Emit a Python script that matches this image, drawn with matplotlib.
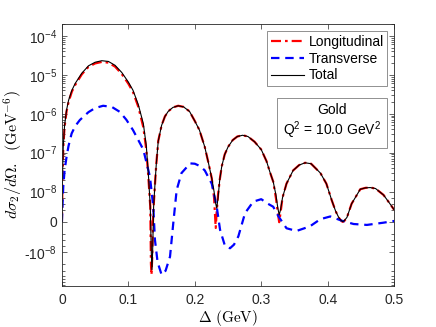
import numpy as np
import matplotlib
matplotlib.use("Agg")
import matplotlib.pyplot as plt
from matplotlib.patches import Rectangle
from matplotlib.ticker import FixedLocator

plt.rcParams['font.family'] = ['Liberation Sans', 'DejaVu Sans']
plt.rcParams['mathtext.fontset'] = 'custom'
plt.rcParams['mathtext.rm'] = 'Liberation Sans'
plt.rcParams['mathtext.it'] = 'Liberation Sans:italic'

# total cross section (GeV^-6) vs Delta (GeV)
x_tot = [0, 0.001, 0.002, 0.004, 0.007, 0.010, 0.015, 0.020, 0.030, 0.040, 0.050,
         0.060, 0.070, 0.080, 0.090, 0.100, 0.107, 0.115, 0.1225, 0.127, 0.130,
         0.133, 0.1345, 0.1355, 0.1365, 0.138, 0.140, 0.142, 0.145, 0.150, 0.155,
         0.160, 0.167, 0.175, 0.183, 0.192, 0.200, 0.207, 0.215, 0.2205, 0.2255,
         0.229, 0.231, 0.233, 0.235, 0.2375, 0.2405, 0.245, 0.250, 0.257, 0.264,
         0.272, 0.280, 0.290, 0.300, 0.308, 0.313, 0.318, 0.322, 0.325, 0.327,
         0.329, 0.332, 0.338, 0.348, 0.357, 0.366, 0.375, 0.389, 0.398, 0.406,
         0.412, 0.417, 0.4205, 0.4227, 0.425, 0.429, 0.436, 0.449, 0.457, 0.464,
         0.472, 0.484, 0.492, 0.500]
y_tot = [0, 3e-8, 1.4e-7, 5e-7, 1.25e-6, 2.2e-6, 4e-6, 6e-6, 1.1e-5, 1.7e-5, 2.1e-5,
         2.3e-5, 2.2e-5, 1.75e-5, 1.15e-5, 6.5e-6, 4e-6, 1.7e-6, 5.6e-7, 1.5e-7, 3e-8,
         5e-9, -1e-8, -2.8e-8, -1e-8, 5e-9, 1.5e-8, 5e-8, 2e-7, 5e-7, 8.5e-7,
         1.15e-6, 1.45e-6, 1.6e-6, 1.5e-6, 1.15e-6, 6.5e-7, 3.8e-7, 1.4e-7, 5.5e-8, 2.2e-8,
         1e-8, 6.5e-9, 4.5e-9, 8e-9, 2e-8, 4.4e-8, 9e-8, 1.4e-7, 2.1e-7, 2.6e-7,
         2.8e-7, 2.6e-7, 1.9e-7, 1.2e-7, 6e-8, 3.2e-8, 1.8e-8, 9e-9, 4.5e-9, 2.3e-9,
         4e-9, 8e-9, 1.6e-8, 3.5e-8, 4.8e-8, 5.5e-8, 5.2e-8, 3e-8, 1.6e-8, 7.2e-9,
         3.5e-9, 1.3e-9, 4e-10, 1e-10, 4e-10, 1.5e-9, 6e-9, 1.15e-8, 1.25e-8, 1.27e-8,
         1.2e-8, 8.9e-9, 6.5e-9, 4e-9]

# longitudinal part
x_lon = [0, 0.001, 0.002, 0.004, 0.007, 0.010, 0.015, 0.020, 0.030, 0.040, 0.050,
         0.060, 0.070, 0.080, 0.090, 0.100, 0.107, 0.115, 0.1225, 0.127, 0.130,
         0.133, 0.134, 0.1348, 0.1358, 0.137, 0.138, 0.140, 0.142, 0.145, 0.150, 0.155,
         0.160, 0.167, 0.175, 0.183, 0.192, 0.200, 0.207, 0.215, 0.2205, 0.2255,
         0.229, 0.2305, 0.2315, 0.2325, 0.235, 0.2375, 0.2405, 0.245, 0.250, 0.257, 0.264,
         0.272, 0.280, 0.290, 0.300, 0.308, 0.313, 0.318, 0.322, 0.325, 0.327,
         0.329, 0.332, 0.338, 0.348, 0.357, 0.366, 0.375, 0.389, 0.398, 0.406,
         0.412, 0.417, 0.4205, 0.4227, 0.425, 0.429, 0.436, 0.449, 0.457, 0.464,
         0.472, 0.484, 0.492, 0.500]
y_lon = [0, 2.5e-8, 1.3e-7, 4.6e-7, 1.15e-6, 2e-6, 3.7e-6, 5.5e-6, 1.03e-5, 1.6e-5, 1.96e-5,
         2.14e-5, 2.05e-5, 1.62e-5, 1.05e-5, 5.9e-6, 3.6e-6, 1.5e-6, 4.5e-7, 1.2e-7, 2.5e-8,
         5e-9, -2e-8, -3.8e-8, -1.5e-8, 0, 5e-9, 1.5e-8, 5e-8, 2e-7, 5e-7, 8.5e-7,
         1.15e-6, 1.45e-6, 1.6e-6, 1.5e-6, 1.15e-6, 6.5e-7, 3.8e-7, 1.4e-7, 5.5e-8, 2.2e-8,
         8e-9, 2e-9, -2e-9, 2e-9, 9e-9, 2e-8, 4.4e-8, 9e-8, 1.4e-7, 2.1e-7, 2.6e-7,
         2.8e-7, 2.6e-7, 1.9e-7, 1.2e-7, 6e-8, 3.2e-8, 1.8e-8, 8e-9, 3e-9, -1e-10,
         3e-9, 8e-9, 1.6e-8, 3.5e-8, 4.8e-8, 5.5e-8, 5.2e-8, 3e-8, 1.6e-8, 7.2e-9,
         3.5e-9, 1.3e-9, 3e-10, 0, 3e-10, 1.5e-9, 6e-9, 1.15e-8, 1.25e-8, 1.27e-8,
         1.2e-8, 8.9e-9, 6.5e-9, 4e-9]

# transverse part
x_tra = [0, 0.001, 0.002, 0.004, 0.007, 0.010, 0.0146, 0.020, 0.027, 0.040, 0.050,
         0.062, 0.075, 0.087, 0.097, 0.107, 0.115, 0.1225, 0.1325, 0.1375, 0.140,
         0.144, 0.150, 0.156, 0.1627, 0.1676, 0.1727, 0.180, 0.193, 0.200, 0.208,
         0.215, 0.2255, 0.233, 0.238, 0.2455, 0.253, 0.259, 0.2655, 0.2756, 0.288,
         0.300, 0.310, 0.318, 0.326, 0.338, 0.353, 0.373, 0.389, 0.404, 0.421,
         0.439, 0.459, 0.484, 0.500]
y_tra = [0, 6e-9, 1.3e-8, 3.5e-8, 7.8e-8, 1.5e-7, 3.1e-7, 4.8e-7, 6.9e-7, 1.1e-6, 1.4e-6,
         1.6e-6, 1.5e-6, 1.12e-6, 7e-7, 3.8e-7, 2.1e-7, 1.2e-7, 2.4e-8, 5e-9, -5.9e-9,
         -1.8e-8, -3.8e-8, -3e-8, -1.3e-8, -4e-10, 1.1e-8, 3e-8, 5.3e-8, 5.2e-8, 4.5e-8,
         3.5e-8, 1.6e-8, 5e-9, -2.6e-9, -8e-9, -8.7e-9, -7.5e-9, -4.8e-9, 2.9e-9, 6.7e-9,
         7.5e-9, 6e-9, 5e-9, 1.8e-9, -2.1e-9, -3e-9, -1.5e-9, 9e-10, 1.8e-9, 4e-10,
         -7e-10, -1e-9, -2.6e-10, 3e-10]

y_major = [-1e-8, 0, 1e-8, 1e-7, 1e-6, 1e-5, 1e-4]
y_major_labels = ['-10$^{-8}$', '0', '10$^{-8}$', '10$^{-7}$', '10$^{-6}$',
                  '10$^{-5}$', '10$^{-4}$']
x_ticks = [0, 0.1, 0.2, 0.3, 0.4, 0.5]
x_tick_labels = ['0', '0.1', '0.2', '0.3', '0.4', '0.5']

fig = plt.figure(figsize=(4.36, 3.27), dpi=100)
ax = fig.add_axes([0.142, 0.126, 0.762, 0.801])

ax.plot(x_lon, y_lon, color='red', lw=1.6, dashes=(4.5, 1.8, 1.2, 1.8),
        label='Longitudinal')
ax.plot(x_tra, y_tra, color='blue', lw=1.6, dashes=(3.8, 2.6), label='Transverse')
ax.plot(x_tot, y_tot, color='black', lw=0.8, label='Total')

ax.set_yscale('symlog', linthresh=1e-8, linscale=0.7)
ax.set_ylim(-7.3e-8, 2.03e-4)
ax.set_xlim(0, 0.5)

ax.set_yticks(y_major)
ax.set_yticklabels(y_major_labels)
minor = []
for e in range(-8, -3):
    for k in range(2, 10):
        minor.append(k * 10.0 ** e)
minor += [-k * 1e-8 for k in range(2, 8)]
minor += [s * k * 1e-9 for s in (1, -1) for k in (4, 6, 8)]
ax.yaxis.set_minor_locator(FixedLocator(minor))
ax.set_xticks(x_ticks)
ax.set_xticklabels(x_tick_labels)
ax.xaxis.set_minor_locator(FixedLocator([]))

frame_col = '#262626'
for sp in ax.spines.values():
    sp.set_linewidth(0.6)
    sp.set_color(frame_col)
ax.tick_params(which='both', direction='in', top=True, right=True,
               color=frame_col, labelsize=10, labelcolor=frame_col, width=0.5)
ax.tick_params(which='major', length=3.5)
ax.tick_params(which='minor', length=2)
ax.tick_params(axis='x', pad=5)

ax.set_xlabel(r'$\Delta\ \mathrm{(GeV)}$', fontsize=11, math_fontfamily='cm',
              labelpad=1)
ax.set_ylabel(r'$d\sigma_2/d\Omega.\ \ \mathrm{(GeV^{-6})}$', fontsize=11.5,
              math_fontfamily='cm', labelpad=0)

leg = ax.legend(loc='upper right', bbox_to_anchor=(0.979, 0.971), borderaxespad=0,
                fontsize=10, fancybox=False, edgecolor='#7f7f7f', framealpha=1,
                handlelength=2.4, handletextpad=0.3, labelspacing=0.2,
                borderpad=0.25)
leg.get_frame().set_linewidth(0.6)

ax.add_patch(Rectangle((0.648, 0.527), 0.331, 0.189, transform=ax.transAxes,
                       facecolor='white', edgecolor='#7f7f7f', lw=0.6, zorder=5))
ax.text(0.8135, 0.672, 'Gold', transform=ax.transAxes, ha='center', va='center',
        fontsize=10, zorder=6)
ax.text(0.8135, 0.595, 'Q$^2$ = 10.0 GeV$^2$', transform=ax.transAxes,
        ha='center', va='center', fontsize=10, zorder=6)

fig.savefig('out.png', dpi=100)
